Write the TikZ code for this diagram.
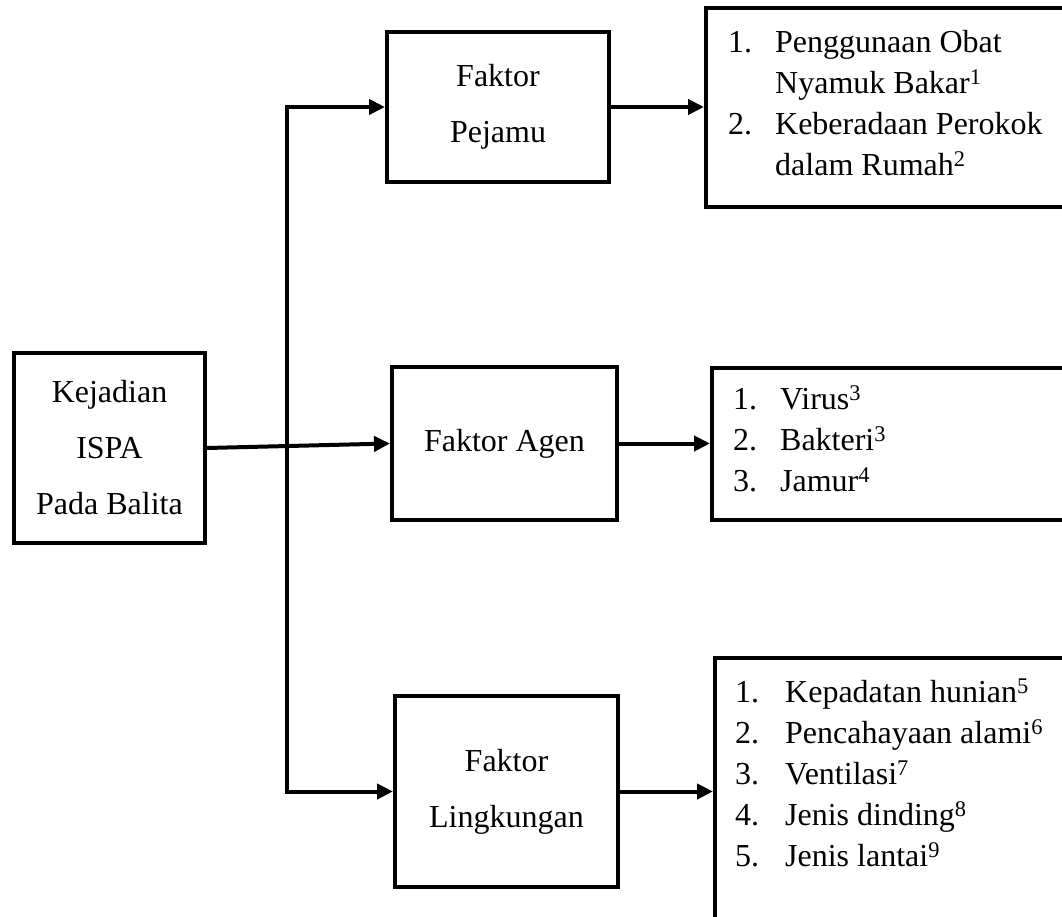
\documentclass[tikz,border=0pt]{standalone}
\usepackage{fontspec}
\setmainfont{Liberation Serif}
\usetikzlibrary{arrows.meta}
\begin{document}
\begin{tikzpicture}[x=1pt,y=-1pt,
  box/.style={draw, line width=4pt, rectangle, inner sep=0pt, align=center,
    font=\fontsize{32}{56}\selectfont},
  ltext/.style={inner sep=0pt, anchor=north west, font=\fontsize{32}{41}\selectfont},
  tip/.tip={Triangle[length=16pt,width=15pt]},
  arr/.style={line width=4pt, -tip},
  arr2/.style={line width=4pt, tip-tip}]
\useasboundingbox (0,0) rectangle (1062,917);
\clip (0,0) rectangle (1062,917);
% left box
\node[box, minimum width=191pt, minimum height=190pt] (kej) at (109.5,448) {Kejadian\\ISPA\\Pada Balita};
% middle boxes
\node[box, minimum width=222pt, minimum height=150pt] (pej) at (498,107) {Faktor\\Pejamu};
\node[box, minimum width=225pt, minimum height=153pt] (agen) at (504.5,443.5) {Faktor Agen};
\node[box, minimum width=223pt, minimum height=191pt] (ling) at (506.5,791.5) {Faktor\\Lingkungan};
% right boxes (running off the right edge)
\node[box, minimum width=374pt, minimum height=199pt] (l1) at (893,107.5) {};
\node[box, minimum width=368pt, minimum height=152pt] (l2) at (896,444) {};
\node[box, minimum width=365pt, minimum height=277pt] (l3) at (897.5,796.5) {};
% list texts
\node[ltext] (t1) at (728,24) {\begin{tabular}{@{}p{47pt}@{}l@{}}
1. & Penggunaan Obat\\
 & Nyamuk Bakar\textsuperscript{1}\\
2. & Keberadaan Perokok\\
 & dalam Rumah\textsuperscript{2}
\end{tabular}};
\node[ltext] (t2) at (733,381) {\begin{tabular}{@{}p{47pt}@{}l@{}}
1. & Virus\textsuperscript{3}\\
2. & Bakteri\textsuperscript{3}\\
3. & Jamur\textsuperscript{4}
\end{tabular}};
\node[ltext] (t3) at (735,674) {\begin{tabular}{@{}p{50pt}@{}l@{}}
1. & Kepadatan hunian\textsuperscript{5}\\
2. & Pencahayaan alami\textsuperscript{6}\\
3. & Ventilasi\textsuperscript{7}\\
4. & Jenis dinding\textsuperscript{8}\\
5. & Jenis lantai\textsuperscript{9}
\end{tabular}};
% connectors
\coordinate (jx) at (287,0);
\draw[arr] (kej.east) -- (agen.west);
\draw[arr2] (pej.west) -- (jx |- pej.west) -- (jx |- ling.west) -- (ling.west);
\draw[arr] (pej.east) -- (pej.east -| l1.west);
\draw[arr] (agen.east) -- (agen.east -| l2.west);
\draw[arr] (ling.east) -- (ling.east -| l3.west);
\end{tikzpicture}
\end{document}
